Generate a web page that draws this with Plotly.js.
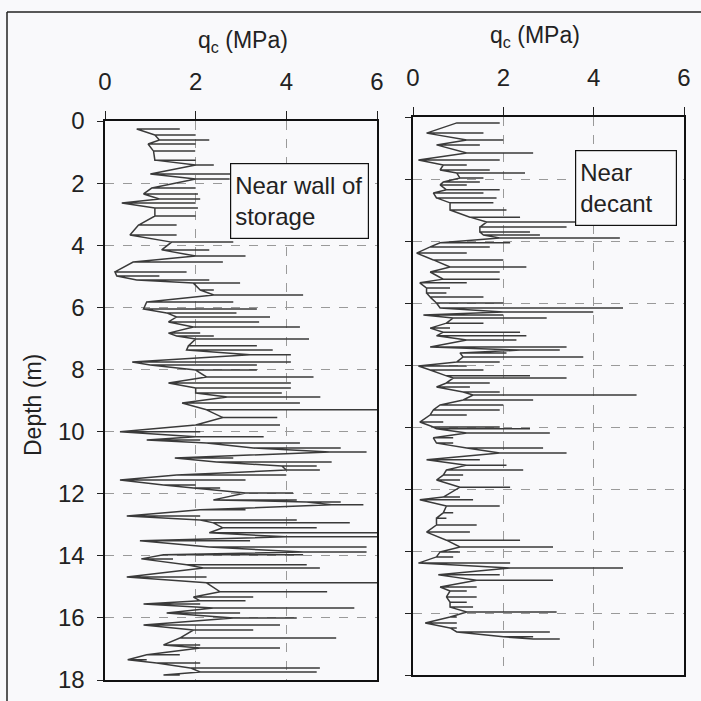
<!DOCTYPE html>
<html>
<head>
<meta charset="utf-8">
<script src="https://cdn.plot.ly/plotly-3.0.1.min.js"></script>
<style>
  html, body { margin: 0; padding: 0; background: #f9f9fb; }
  #chart { width: 701px; height: 701px; }
</style>
</head>
<body>
<div id="chart"></div>
<script>
// CPT cone resistance profiles: each entry is one excursion of the trace at a depth (m),
// from its lowest to its highest q_c (MPa).

// Profile near the wall of the storage
const depthNearWall = [
  0.26, 0.45, 0.61, 0.74, 0.97, 1.26, 1.42, 1.71, 1.87, 2.16,
  2.35, 2.51, 2.64, 2.80, 3.06, 3.35, 3.67, 3.90, 4.15, 4.35,
  4.54, 4.86, 4.99, 5.12, 5.22, 5.44, 5.60, 5.83, 6.05, 6.18,
  6.31, 6.47, 6.63, 6.83, 6.92, 7.02, 7.24, 7.37, 7.53, 7.76,
  7.86, 8.02, 8.24, 8.44, 8.60, 8.76, 8.89, 9.08, 9.30, 9.55,
  9.79, 10.01, 10.17, 10.27, 10.37, 10.53, 10.66, 10.85, 10.98, 11.11,
  11.24, 11.40, 11.56, 11.72, 11.82, 11.98, 12.20, 12.27, 12.36, 12.52,
  12.72, 12.85, 12.94, 13.10, 13.26, 13.39, 13.52, 13.72, 13.88, 13.97,
  14.10, 14.29, 14.39, 14.68, 14.87, 15.16, 15.33, 15.45, 15.55, 15.68,
  15.84, 16.00, 16.23, 16.39, 16.65, 16.87, 16.97, 17.19, 17.35, 17.45,
  17.61, 17.74, 17.84
];
const qcMinNearWall = [
  0.70, 1.10, 1.20, 0.95, 1.07, 1.10, 2.00, 1.00, 2.00, 1.03,
  0.85, 1.20, 0.37, 1.10, 1.10, 0.74, 0.55, 1.47, 1.25, 2.00,
  0.62, 0.22, 0.26, 0.70, 1.95, 2.10, 2.40, 0.92, 0.85, 1.36,
  1.58, 1.40, 1.95, 1.40, 1.58, 2.00, 1.84, 1.80, 3.20, 0.60,
  1.00, 2.00, 2.24, 1.40, 2.00, 2.00, 2.70, 1.70, 2.24, 2.60,
  2.00, 0.33, 2.00, 0.92, 2.24, 3.27, 4.96, 1.54, 2.46, 3.90,
  4.00, 1.58, 0.33, 1.29, 1.95, 3.10, 2.39, 4.45, 5.00, 2.10,
  0.48, 2.10, 2.39, 2.60, 2.30, 4.00, 0.77, 2.30, 4.37, 1.29,
  0.80, 1.80, 2.17, 0.48, 2.24, 2.54, 1.95, 2.10, 0.85, 2.39,
  1.36, 2.83, 0.85, 1.95, 1.65, 1.29, 2.10, 0.92, 0.50, 1.14,
  1.88, 2.10, 1.29
];
const qcMaxNearWall = [
  1.65, 2.00, 2.30, 2.00, 1.99, 2.00, 2.40, 2.80, 2.75, 2.00,
  2.05, 2.10, 2.00, 2.05, 2.00, 1.58, 1.58, 2.83, 2.30, 3.10,
  2.60, 1.80, 1.20, 2.30, 2.98, 2.40, 4.37, 2.83, 3.35, 2.90,
  3.64, 3.40, 4.30, 2.10, 2.40, 4.50, 3.35, 3.70, 4.10, 4.10,
  3.35, 3.35, 4.60, 4.10, 4.10, 3.90, 4.75, 4.30, 6.00, 3.80,
  3.86, 2.10, 3.50, 2.10, 4.30, 5.20, 5.77, 2.83, 5.00, 4.67,
  4.74, 4.00, 3.10, 2.00, 2.54, 4.15, 4.23, 5.20, 5.70, 3.10,
  2.10, 4.23, 5.40, 4.67, 6.00, 6.00, 3.20, 5.77, 5.77, 4.37,
  1.50, 4.45, 4.74, 2.24, 6.00, 4.90, 3.27, 3.10, 2.10, 5.50,
  2.98, 4.23, 3.86, 3.27, 5.10, 2.10, 3.86, 1.65, 0.92, 2.10,
  4.74, 4.67, 1.65
];

// Profile near the decant
const depthNearDecant = [
  0.19, 0.52, 0.74, 0.90, 1.16, 1.39, 1.55, 1.71, 1.81, 1.97,
  2.10, 2.19, 2.35, 2.45, 2.61, 2.77, 3.00, 3.23, 3.39, 3.55,
  3.71, 3.81, 3.90, 4.06, 4.19, 4.39, 4.61, 4.84, 5.00, 5.23,
  5.35, 5.52, 5.68, 5.81, 6.00, 6.16, 6.29, 6.39, 6.48, 6.65,
  6.81, 6.94, 7.06, 7.19, 7.42, 7.52, 7.61, 7.74, 7.90, 8.03,
  8.16, 8.35, 8.42, 8.58, 8.71, 8.87, 8.97, 9.13, 9.29, 9.45,
  9.61, 9.84, 10.00, 10.06, 10.19, 10.35, 10.52, 10.68, 10.84, 11.06,
  11.23, 11.39, 11.55, 11.71, 11.94, 12.26, 12.35, 12.55, 12.77, 12.94,
  13.16, 13.39, 13.65, 13.87, 14.03, 14.19, 14.39, 14.55, 14.77, 14.94,
  15.16, 15.29, 15.48, 15.65, 15.81, 15.97, 16.13, 16.32, 16.48, 16.61,
  16.77, 16.84
];
const qcMinNearDecant = [
  0.97, 0.30, 1.19, 0.52, 1.19, 0.12, 0.67, 0.60, 0.97, 1.04,
  0.67, 0.60, 0.74, 0.45, 0.52, 0.82, 0.82, 1.26, 1.63, 1.48,
  1.48, 1.56, 1.92, 0.60, 0.38, 0.08, 0.45, 0.82, 0.38, 0.67,
  0.15, 0.30, 0.30, 0.38, 0.52, 0.60, 2.00, 0.23, 0.89, 0.74,
  0.38, 0.67, 0.52, 1.19, 0.38, 2.37, 1.04, 1.11, 0.97, 0.12,
  0.38, 0.74, 0.89, 0.74, 0.52, 1.11, 1.33, 1.11, 0.60, 0.45,
  0.38, 0.15, 0.45, 0.52, 1.19, 0.45, 0.52, 1.19, 1.92, 0.30,
  1.19, 0.74, 0.67, 0.52, 1.04, 0.67, 0.15, 0.74, 0.67, 0.52,
  0.52, 0.30, 0.74, 1.04, 0.60, 0.52, 0.12, 2.15, 0.56, 1.41,
  0.60, 0.82, 0.74, 0.82, 0.82, 1.19, 0.82, 0.27, 0.82, 0.97,
  2.00, 2.66
];
const qcMaxNearDecant = [
  1.92, 1.56, 2.00, 1.48, 2.66, 1.92, 1.19, 1.70, 2.48, 1.56,
  1.48, 1.19, 1.92, 1.56, 1.85, 1.78, 2.07, 2.37, 3.62, 3.40,
  2.59, 2.81, 4.58, 2.15, 1.70, 1.19, 2.00, 2.51, 1.92, 1.92,
  1.19, 0.82, 0.74, 1.56, 2.00, 4.65, 3.99, 2.00, 2.96, 1.56,
  0.82, 2.37, 2.51, 2.29, 3.40, 3.25, 2.07, 3.77, 1.92, 1.19,
  1.56, 2.59, 3.40, 1.70, 1.26, 1.92, 4.95, 2.66, 2.00, 1.92,
  1.19, 0.67, 1.92, 2.59, 3.03, 0.89, 0.89, 2.88, 3.40, 1.48,
  2.07, 2.44, 1.11, 1.04, 2.15, 1.04, 1.33, 1.92, 0.89, 0.74,
  1.41, 1.26, 2.37, 3.10, 1.04, 0.89, 2.15, 4.65, 1.92, 3.10,
  1.41, 1.19, 1.41, 1.19, 1.33, 3.18, 0.97, 0.97, 0.97, 3.03,
  2.66, 3.25
];

const depthTicks = [0, 2, 4, 6, 8, 10, 12, 14, 16, 18];
const qcTicks = [0, 2, 4, 6];
const boxLabels = ['Near wall of<br>storage', 'Near<br>decant'];
const axisTitleQc = 'q<sub>c</sub> (MPa)';
const axisTitleDepth = 'Depth (m)';

// Each excursion is drawn out to its peak and back, so the trace runs down
// along its low values with horizontal spikes to the right.
function strokes(depths, lows, highs) {
  const x = [], y = [];
  depths.forEach((d, i) => {
    x.push(lows[i], highs[i], lows[i]);
    y.push(d, d, d);
  });
  return { x, y };
}

const wall = strokes(depthNearWall, qcMinNearWall, qcMaxNearWall);
const decant = strokes(depthNearDecant, qcMinNearDecant, qcMaxNearDecant);

const FONT = 'Arial, "Liberation Sans", sans-serif';
const INK = '#222';
const traceLine = { color: '#3a3a3a', width: 1.5 };

const traces = [
  { x: wall.x, y: wall.y, xaxis: 'x', yaxis: 'y', mode: 'lines', line: traceLine, hoverinfo: 'skip' },
  { x: decant.x, y: decant.y, xaxis: 'x2', yaxis: 'y2', mode: 'lines', line: traceLine, hoverinfo: 'skip' }
];

const W = 701, H = 701;
const px = v => v / W;
const py = v => 1 - v / H;

function qcAxis(domain, anchor) {
  return {
    domain, anchor, side: 'top', range: [0, 6], tickvals: qcTicks,
    ticks: 'outside', ticklen: 8, tickwidth: 1, tickcolor: INK,
    ticklabelstandoff: 12,
    tickfont: { family: FONT, size: 24, color: INK },
    showline: true, mirror: true, linecolor: '#111', linewidth: 1.6,
    showgrid: true, gridcolor: '#9a9a9a', griddash: 'dash', gridwidth: 1,
    zeroline: false, fixedrange: true
  };
}
function depthAxis(domain, anchor, labels) {
  return {
    domain, anchor, range: [18, 0], tickvals: depthTicks,
    ticks: 'outside', ticklen: 6, tickwidth: 1, tickcolor: INK,
    ticklabelstandoff: 8,
    showticklabels: labels,
    tickfont: { family: FONT, size: 24, color: INK },
    showline: true, mirror: true, linecolor: '#111', linewidth: 1.6,
    showgrid: true, gridcolor: '#9a9a9a', griddash: 'dash', gridwidth: 1,
    zeroline: false, fixedrange: true
  };
}

const layout = {
  width: W, height: H,
  margin: { l: 0, r: 0, t: 0, b: 0 },
  paper_bgcolor: '#f9f9fb', plot_bgcolor: '#f9f9fb',
  showlegend: false,
  xaxis: qcAxis([px(105), px(377)], 'y'),
  yaxis: depthAxis([py(680), py(121)], 'x', true),
  xaxis2: qcAxis([px(413), px(684)], 'y2'),
  yaxis2: depthAxis([py(675), py(117)], 'x2', false),
  annotations: [
    { text: axisTitleQc, xref: 'paper', yref: 'paper', x: px(243), y: py(42),
      xanchor: 'center', yanchor: 'middle',
      showarrow: false, font: { family: FONT, size: 23, color: INK } },
    { text: axisTitleQc, xref: 'paper', yref: 'paper', x: px(535), y: py(37),
      xanchor: 'center', yanchor: 'middle',
      showarrow: false, font: { family: FONT, size: 23, color: INK } },
    { text: axisTitleDepth, xref: 'paper', yref: 'paper', x: px(33), y: py(405),
      xanchor: 'center', yanchor: 'middle',
      textangle: -90, showarrow: false, font: { family: FONT, size: 23, color: INK } },
    { text: boxLabels[0], xref: 'paper', yref: 'paper', x: px(230), y: py(163),
      xanchor: 'left', yanchor: 'top', align: 'left', width: 129, height: 66,
      borderpad: 4, bordercolor: '#111', borderwidth: 1.2, bgcolor: '#f9f9fb',
      showarrow: false, font: { family: FONT, size: 24, color: INK } },
    { text: boxLabels[1], xref: 'paper', yref: 'paper', x: px(575), y: py(150),
      xanchor: 'left', yanchor: 'top', align: 'left', width: 92, height: 66,
      borderpad: 4, bordercolor: '#111', borderwidth: 1.2, bgcolor: '#f9f9fb',
      showarrow: false, font: { family: FONT, size: 24, color: INK } }
  ],
  shapes: [
    { type: 'line', xref: 'paper', yref: 'paper', x0: px(7), x1: px(7), y0: 0, y1: py(12),
      line: { color: '#222', width: 1.5 } },
    { type: 'line', xref: 'paper', yref: 'paper', x0: px(7), x1: 1, y0: py(12), y1: py(12),
      line: { color: '#222', width: 1.5 } }
  ]
};

Plotly.newPlot('chart', traces, layout, { staticPlot: true, displayModeBar: false });
</script>
</body>
</html>
